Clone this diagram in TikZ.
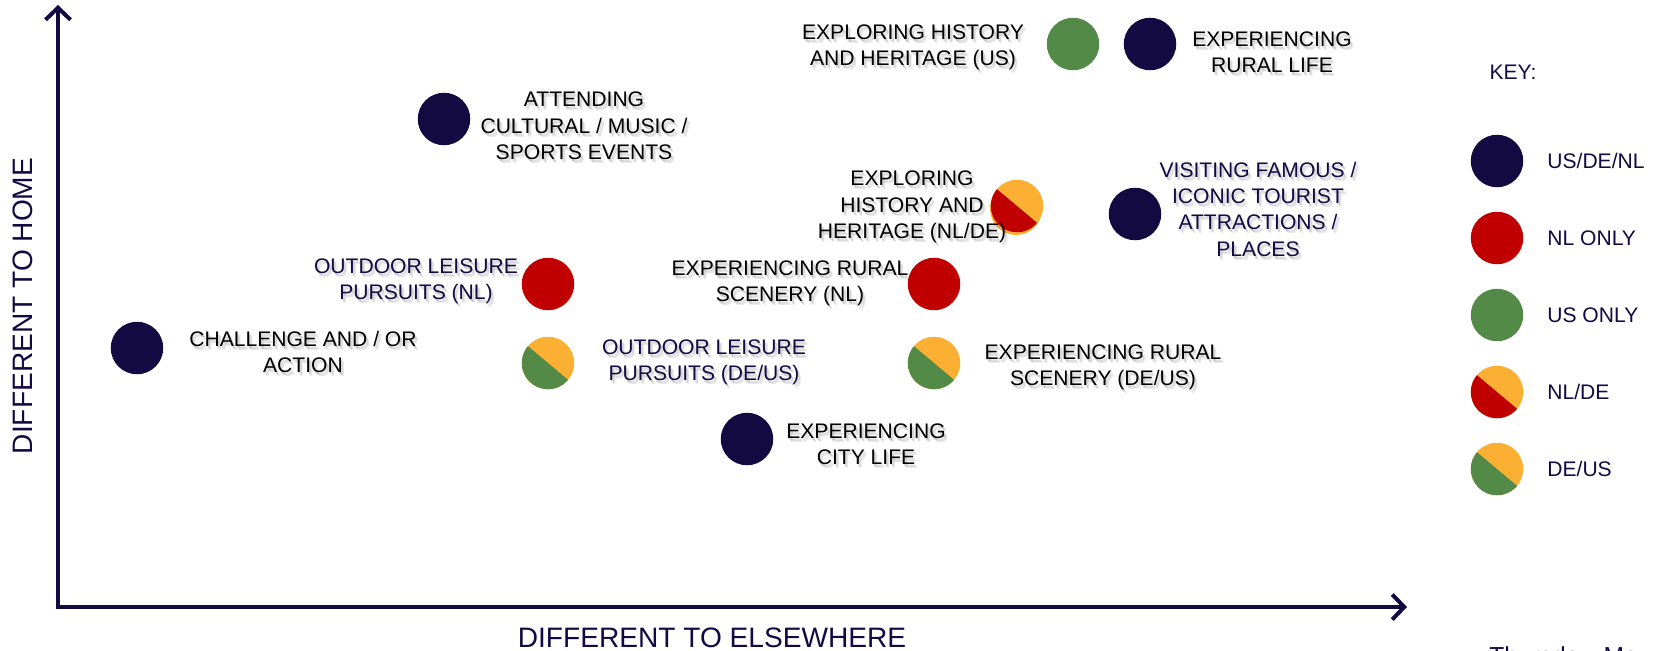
\documentclass[tikz,border=0pt]{standalone}
\usepackage{fontspec}
\setmainfont{Liberation Sans}
\usetikzlibrary{calc,arrows.meta}

\definecolor{navy}{RGB}{20,10,66}
\definecolor{nlred}{RGB}{192,0,0}
\definecolor{usgreen}{RGB}{84,138,71}
\definecolor{deorange}{RGB}{251,176,52}

\tikzset{
  lbl/.style={align=center, inner sep=0pt, font=\fontsize{12}{15}\selectfont},
  axlbl/.style={inner sep=0pt, text=navy, font=\fontsize{16}{19}\selectfont},
  axis/.style={line width=0.08cm, navy, line join=miter,
    {Straight Barb[length=0.24cm,width=0.5cm]}-{Straight Barb[length=0.24cm,width=0.5cm]}},
  spot/.style={circle, minimum size=1.05cm, inner sep=0pt},
  % orange on the upper right, #1 on the lower left
  split/.style={spot, fill=deorange, path picture={
    \fill[#1] (path picture bounding box.center) ++(140:1cm) -- ++(230:1cm)
      -- ++(320:2cm) -- ++(50:1cm) -- cycle;}},
}

% label with a soft drop shadow
\newcommand{\plabel}[4]{%
  \foreach \s in {1,2,3}
    \node[lbl, text=black!70, opacity=0.12] at ($(#2)+(\s,\s+1)$) {#4};
  \node[lbl, text=#3] (#1) at (#2) {#4};
}

\begin{document}
\begin{tikzpicture}[x=0.02cm, y=-0.02cm]
  \useasboundingbox (0,0) rectangle (1653,650);

  % axes
  \coordinate (O) at (58,607);
  \coordinate (top) at (58,5);
  \coordinate (right) at (1407,607);
  \draw[axis] (top) -- (O) -- (right);
  \node[axlbl, rotate=90] (home) at (23,306) {DIFFERENT TO HOME};
  \node[axlbl] (elsewhere) at (712,638) {DIFFERENT TO ELSEWHERE};

  % activities
  \node[spot, fill=navy] (challenge) at (137,348) {};
  \node[spot, fill=navy] (attend) at (444,119) {};
  \node[spot, fill=nlred] (outdoor-nl) at (548,284) {};
  \node[split=usgreen] (outdoor-deus) at (548,363) {};
  \node[spot, fill=navy] (city) at (747,439) {};
  \node[spot, fill=nlred] (scenery-nl) at (934,284) {};
  \node[split=usgreen] (scenery-deus) at (934,363) {};
  \fill[deorange] (1016,209) circle[radius=0.52cm];
  \node[split=nlred] (history-nlde) at (1017,206) {};
  \node[spot, fill=usgreen] (history-us) at (1073,44) {};
  \node[spot, fill=navy] (rural) at (1150,44) {};
  \node[spot, fill=navy] (famous) at (1135,214) {};

  \plabel{challenge-txt}{303,352}{black}{CHALLENGE AND / OR\\ACTION}
  \plabel{attend-txt}{584,126}{black}{ATTENDING\\CULTURAL / MUSIC /\\SPORTS EVENTS}
  \plabel{outdoor-nl-txt}{416,281}{navy}{OUTDOOR LEISURE\\PURSUITS (NL)}
  \plabel{outdoor-deus-txt}{704,362}{navy}{OUTDOOR LEISURE\\PURSUITS (DE/US)}
  \plabel{city-txt}{866,444}{black}{EXPERIENCING\\CITY LIFE}
  \plabel{scenery-nl-txt}{790,283}{black}{EXPERIENCING RURAL\\SCENERY (NL)}
  \plabel{scenery-deus-txt}{1103,367}{black}{EXPERIENCING RURAL\\SCENERY (DE/US)}
  \plabel{history-nlde-txt}{912,207}{black}{EXPLORING\\HISTORY AND\\HERITAGE (NL/DE)}
  \plabel{history-us-txt}{913,47}{black}{EXPLORING HISTORY\\AND HERITAGE (US)}
  \plabel{rural-txt}{1272,52}{black}{EXPERIENCING\\RURAL LIFE}
  \plabel{famous-txt}{1258,209}{navy}{VISITING FAMOUS /\\ICONIC TOURIST\\ATTRACTIONS /\\PLACES}

  % key
  \node[lbl, text=navy] (key) at (1513,72) {KEY:};
  \node[spot, fill=navy] (k1) at (1497,161) {};
  \node[spot, fill=nlred] (k2) at (1497,238) {};
  \node[spot, fill=usgreen] (k3) at (1497,315) {};
  \node[split=nlred] (k4) at (1497,392) {};
  \node[split=usgreen] (k5) at (1497,469) {};
  \node[lbl, text=navy, anchor=west] (k1-txt) at (1547,161) {US/DE/NL};
  \node[lbl, text=navy, anchor=west] (k2-txt) at (1547,238) {NL ONLY};
  \node[lbl, text=navy, anchor=west] (k3-txt) at (1547,315) {US ONLY};
  \node[lbl, text=navy, anchor=west] (k4-txt) at (1547,392) {NL/DE};
  \node[lbl, text=navy, anchor=west] (k5-txt) at (1547,469) {DE/US};

  \node[inner sep=0pt, anchor=base west, text=navy, font=\fontsize{14}{17}\selectfont]
    (date) at (1489,664) {Thursday, May};
\end{tikzpicture}
\end{document}
